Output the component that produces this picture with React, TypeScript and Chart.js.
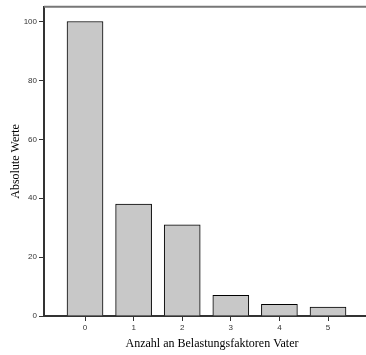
import React, { useEffect, useRef } from "react";
import { Chart, registerables } from "chart.js";

Chart.register(...registerables);

const categories = [0, 1, 2, 3, 4, 5];
const values = [100, 38, 31, 7, 4, 3];
const yTicks = [0, 20, 40, 60, 80, 100];
const xTitle = "Anzahl an Belastungsfaktoren Vater";
const yTitle = "Absolute Werte";

const topBorder = {
  id: "topBorder",
  afterDraw(chart: any) {
    const { ctx, chartArea } = chart;
    ctx.save();
    ctx.strokeStyle = "#777777";
    ctx.lineWidth = 2;
    ctx.beginPath();
    ctx.moveTo(chartArea.left, chartArea.top);
    ctx.lineTo(chartArea.right + 2, chartArea.top);
    ctx.stroke();
    ctx.restore();
  },
};

export default function App() {
  const ref = useRef<HTMLCanvasElement>(null);
  useEffect(() => {
    document.body.style.margin = "0";
    document.body.style.overflow = "hidden";
    const chart = new Chart(ref.current!, {
      type: "bar",
      data: {
        datasets: [
          {
            data: categories.map((c, i) => ({ x: c, y: values[i] })),
            backgroundColor: "#c8c8c8",
            borderColor: "#000000",
            borderWidth: 1,
            barThickness: 36,
          },
        ],
      },
      options: {
        animation: false,
        responsive: false,
        layout: { padding: { top: 5, right: 0, left: 0, bottom: 0 } },
        plugins: { legend: { display: false }, tooltip: { enabled: false } },
        scales: {
          x: {
            type: "linear",
            offset: false,
            min: -0.844,
            max: 6.07,
            afterFit: (s: any) => {
              s.height = 39;
            },
            afterBuildTicks: (s: any) => {
              s.ticks = categories.map((v) => ({ value: v }));
            },
            ticks: {
              includeBounds: false,
              font: { family: "Liberation Sans", size: 8 },
              color: "#333333",
              padding: 2,
              maxRotation: 0,
            },
            grid: {
              offset: false,
              drawOnChartArea: false,
              drawTicks: true,
              tickLength: 5,
              color: "#333333",
              lineWidth: 1,
            },
            border: { color: "#333333", width: 2 },
            title: {
              display: true,
              text: xTitle,
              font: { family: "Liberation Serif", size: 12 },
              color: "#000000",
              padding: { top: 0, bottom: 4 },
            },
          },
          y: {
            min: 0,
            max: 105,
            afterFit: (s: any) => {
              s.width = 44;
            },
            afterBuildTicks: (s: any) => {
              s.ticks = yTicks.map((v) => ({ value: v }));
            },
            ticks: {
              includeBounds: false,
              font: { family: "Liberation Sans", size: 8 },
              color: "#333333",
              padding: 2,
            },
            grid: {
              drawOnChartArea: false,
              drawTicks: true,
              tickLength: 5,
              color: "#333333",
              lineWidth: 1,
            },
            border: { color: "#333333", width: 2 },
            title: {
              display: true,
              text: yTitle,
              font: { family: "Liberation Serif", size: 12 },
              color: "#000000",
              padding: { top: 9, bottom: 0 },
            },
          },
        },
      },
      plugins: [topBorder],
    } as any);
    return () => chart.destroy();
  }, []);
  return (
    <div style={{ width: 366, height: 355, overflow: "hidden" }}>
      <canvas ref={ref} width={380} height={355} style={{ display: "block" }} />
    </div>
  );
}
